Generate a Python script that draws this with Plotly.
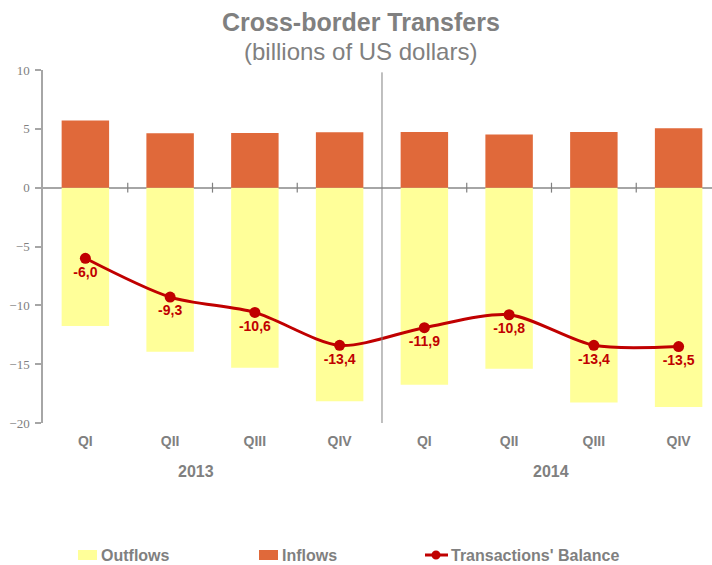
import plotly.graph_objects as go

quarters = ["QI", "QII", "QIII", "QIV", "QI", "QII", "QIII", "QIV"]
years = ["2013", "2014"]
inflows = [5.70, 4.62, 4.65, 4.71, 4.74, 4.51, 4.74, 5.05]
outflows = [-11.75, -13.95, -15.30, -18.15, -16.75, -15.40, -18.25, -18.65]
balance = [-6.0, -9.3, -10.6, -13.4, -11.9, -10.8, -13.4, -13.5]
series_names = ["Outflows", "Inflows", "Transactions' Balance"]

GRAY = "#808080"
YELLOW, ORANGE, RED = "#FFFF99", "#E0693A", "#C00000"
SANS = "Liberation Sans Narrow, Arial Narrow, Liberation Sans, Arial, sans-serif"
x = list(range(len(quarters)))
labels = [f"{v:.1f}".replace(".", ",") for v in balance]

# plot area in pixels (for placing the hand-made legend)
L, T, B, W, H = 43, 70, 142, 712, 565
PW, PH = W - L, H - T - B


def px(xp):
    return (xp - L) / PW


def py(yp):
    return (H - B - yp) / PH


fig = go.Figure()
fig.add_trace(go.Bar(x=x, y=outflows, name=series_names[0], marker_color=YELLOW,
                     width=0.56, marker_line_width=0))
fig.add_trace(go.Bar(x=x, y=inflows, name=series_names[1], marker_color=ORANGE,
                     width=0.56, marker_line_width=0))
fig.add_trace(go.Scatter(x=x, y=balance, name=series_names[2],
                         mode="lines+markers+text",
                         line=dict(color=RED, width=3, shape="spline", smoothing=0.8),
                         marker=dict(size=11, color=RED),
                         text=labels, textposition="bottom center",
                         textfont=dict(family=SANS, size=14, color=RED, weight="bold"),
                         cliponaxis=False))

shapes = []
# small boundary ticks on the zero line
for i in range(len(quarters) - 1):
    if i == 3:
        continue
    shapes.append(dict(type="line", xref="x", yref="y", x0=i + 0.5, x1=i + 0.5,
                       y0=-0.42, y1=0.42, line=dict(color=GRAY, width=1.2)))
# year divider
shapes.append(dict(type="line", xref="x", yref="y", x0=3.5, x1=3.5, y0=9.8, y1=-20,
                   line=dict(color=GRAY, width=1)))

# legend symbols
shapes.append(dict(type="rect", xref="paper", yref="paper", x0=px(78), x1=px(97),
                   y0=py(560), y1=py(550), fillcolor=YELLOW, line_width=0))
shapes.append(dict(type="rect", xref="paper", yref="paper", x0=px(259), x1=px(278),
                   y0=py(560), y1=py(550), fillcolor=ORANGE, line_width=0))
shapes.append(dict(type="line", xref="paper", yref="paper", x0=px(425), x1=px(448),
                   y0=py(555), y1=py(555), line=dict(color=RED, width=3)))
shapes.append(dict(type="circle", xref="paper", yref="paper", x0=px(431.5), x1=px(440.5),
                   y0=py(559.5), y1=py(550.5), fillcolor=RED, line_width=0))

annotations = [
    dict(text="<b>Cross-border Transfers</b>", xref="paper", yref="paper", x=0.475, y=1.136,
         yanchor="middle", showarrow=False, font=dict(family=SANS, size=25, color=GRAY)),
    dict(text="(billions of US dollars)", xref="paper", yref="paper", x=0.475, y=1.051,
         yanchor="middle", showarrow=False, font=dict(family=SANS, size=24, color=GRAY)),
]
for yr, xpos in zip(years, [1.3, 5.5]):
    annotations.append(dict(text=f"<b>{yr}</b>", xref="x", yref="paper", x=xpos, y=0,
                            yshift=-48, yanchor="middle", showarrow=False,
                            font=dict(family=SANS, size=16, color=GRAY)))
for name, xp in zip(series_names, [99, 280, 449]):
    annotations.append(dict(text=f"<b>{name}</b>", xref="paper", yref="paper",
                            x=px(xp), y=py(555), xanchor="left", yanchor="middle",
                            showarrow=False, font=dict(family=SANS, size=16, color=GRAY)))

fig.update_layout(
    width=W, height=H,
    margin=dict(l=L, r=0, t=T, b=B, autoexpand=False),
    paper_bgcolor="white", plot_bgcolor="white",
    barmode="relative", bargap=0.44,
    showlegend=False,
    xaxis=dict(range=[-0.5, 7.394], tickvals=x, ticktext=[f"<b>{q}</b>" for q in quarters],
               showgrid=False, zeroline=False, showline=False, ticks="",
               tickfont=dict(family=SANS, size=14, color=GRAY), ticklabelstandoff=8),
    yaxis=dict(range=[-20, 10], tickvals=[10, 5, 0, -5, -10, -15, -20],
               showgrid=False, zeroline=True, zerolinecolor="#A6A6A6", zerolinewidth=1.5,
               showline=True, linecolor="#A6A6A6", linewidth=1.5,
               ticks="outside", ticklen=6, tickcolor="#A6A6A6", tickwidth=1.5,
               ticklabelstandoff=3,
               tickfont=dict(family="Liberation Serif, Times New Roman, serif", size=13, color=GRAY)),
    shapes=shapes, annotations=annotations,
)

fig.write_html("out.html", config={"displayModeBar": False},
               post_script="document.body.style.margin='0';")
